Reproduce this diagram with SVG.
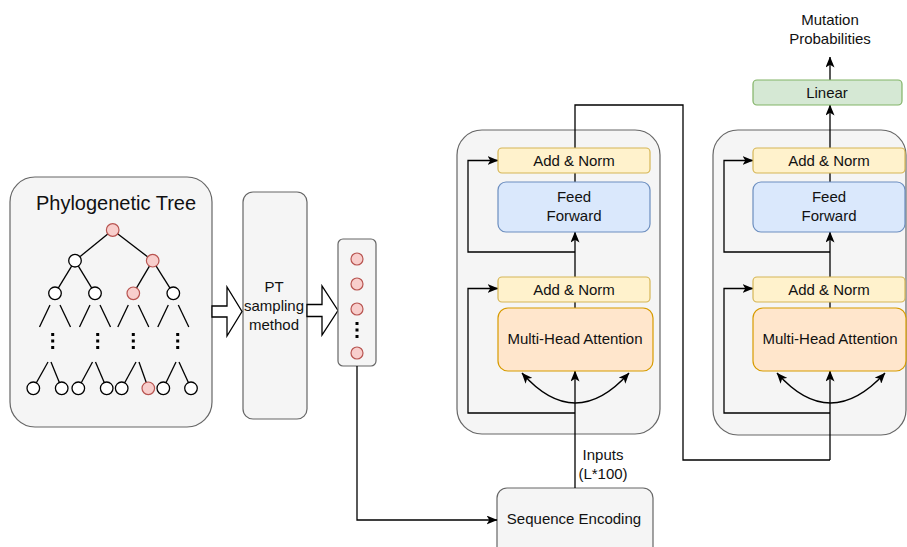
<svg xmlns="http://www.w3.org/2000/svg" width="907" height="547" viewBox="0 0 907 547">
<defs>
<marker id="arr" markerWidth="11" markerHeight="9" refX="10.5" refY="4.5" orient="auto-start-reverse" markerUnits="userSpaceOnUse">
<path d="M0,0 L11,4.5 L0,9 L2.8,4.5 z" fill="#000"/>
</marker>
<style>
text{font-family:"Liberation Sans",Arial,sans-serif;font-size:15px;fill:#111;text-anchor:middle;}
.panel{fill:#f5f5f5;stroke:#666;stroke-width:1.2;}
.an{fill:#fff2cc;stroke:#d6b656;stroke-width:1.2;}
.ff{fill:#dae8fc;stroke:#6c8ebf;stroke-width:1.2;}
.mha{fill:#ffe6cc;stroke:#d79b00;stroke-width:1.2;}
.lin{fill:#d5e8d4;stroke:#82b366;stroke-width:1.2;}
.red{fill:#f8cecc;stroke:#b85450;stroke-width:1.2;}
.wn{fill:#fff;stroke:#000;stroke-width:1.3;}
.tl{stroke:#000;stroke-width:1.3;fill:none;}
.dots{stroke:#000;stroke-width:3;stroke-dasharray:3,3.5;fill:none;}
.c{fill:none;stroke:#000;stroke-width:1.3;}
.ca{fill:none;stroke:#000;stroke-width:1.3;marker-end:url(#arr);}
.blk{fill:#fff;stroke:#000;stroke-width:1.3;}
</style>
</defs>

<g id="tree">
<rect class="panel" x="10" y="177" width="202" height="250" rx="25"/>
<text x="116" y="210" style="font-size:20px">Phylogenetic Tree</text>
<g class="tl">
<line x1="112.7" y1="230" x2="75" y2="260.7"/>
<line x1="112.7" y1="230" x2="152.7" y2="260.7"/>
<line x1="75" y1="260.7" x2="55" y2="293.3"/>
<line x1="75" y1="260.7" x2="95" y2="293.3"/>
<line x1="152.7" y1="260.7" x2="133.3" y2="293.3"/>
<line x1="152.7" y1="260.7" x2="173.3" y2="293.3"/>
<line x1="50" y1="305" x2="39.5" y2="327"/><line x1="60" y1="305" x2="70.5" y2="327"/>
<line x1="90" y1="305" x2="79.5" y2="327"/><line x1="100" y1="305" x2="110.5" y2="327"/>
<line x1="128.3" y1="305" x2="117.8" y2="327"/><line x1="138.3" y1="305" x2="148.8" y2="327"/>
<line x1="168.3" y1="305" x2="157.8" y2="327"/><line x1="178.3" y1="305" x2="188.8" y2="327"/>
<line x1="48" y1="362" x2="33.3" y2="388.3"/><line x1="51" y1="362" x2="61.7" y2="388.3"/>
<line x1="92.5" y1="362" x2="78.3" y2="388.3"/><line x1="95.5" y1="362" x2="106.7" y2="388.3"/>
<line x1="136" y1="362" x2="121.7" y2="388.3"/><line x1="139" y1="362" x2="148.3" y2="388.3"/>
<line x1="176" y1="362" x2="163.3" y2="388.3"/><line x1="179" y1="362" x2="191" y2="388.3"/>
</g>
<g class="dots">
<line x1="52.7" y1="333" x2="52.7" y2="349"/>
<line x1="97.7" y1="333" x2="97.7" y2="349"/>
<line x1="133.3" y1="333" x2="133.3" y2="349"/>
<line x1="177.7" y1="333" x2="177.7" y2="349"/>
</g>
<circle class="red" cx="112.7" cy="230" r="6.3"/>
<circle class="wn" cx="75" cy="260.7" r="6.3"/>
<circle class="red" cx="152.7" cy="260.7" r="6.3"/>
<circle class="wn" cx="55" cy="293.3" r="6.3"/>
<circle class="wn" cx="95" cy="293.3" r="6.3"/>
<circle class="red" cx="133.3" cy="293.3" r="6.3"/>
<circle class="wn" cx="173.3" cy="293.3" r="6.3"/>
<circle class="wn" cx="33.3" cy="388.3" r="6.3"/>
<circle class="wn" cx="61.7" cy="388.3" r="6.3"/>
<circle class="wn" cx="78.3" cy="388.3" r="6.3"/>
<circle class="wn" cx="106.7" cy="388.3" r="6.3"/>
<circle class="wn" cx="121.7" cy="388.3" r="6.3"/>
<circle class="red" cx="148.3" cy="388.3" r="6.3"/>
<circle class="wn" cx="163.3" cy="388.3" r="6.3"/>
<circle class="wn" cx="191" cy="388.3" r="6.3"/>
</g>

<g id="pt-sampling">
<rect class="panel" x="243" y="192" width="64" height="227" rx="10"/>
<text x="274" y="292">PT</text>
<text x="274" y="311">sampling</text>
<text x="274" y="330">method</text>
</g>

<g id="arrow-blocks">
<polygon class="blk" points="212,306 227,306 227,287 242,311.5 227,336 227,317 212,317"/>
<polygon class="blk" points="307,304.5 322,304.5 322,286 338,310.5 322,335 322,316.5 307,316.5"/>
</g>

<g id="samples">
<rect class="panel" x="338" y="239" width="38" height="127" rx="5"/>
<circle class="red" cx="357" cy="259" r="6"/>
<circle class="red" cx="357" cy="284" r="6"/>
<circle class="red" cx="357" cy="309" r="6"/>
<line class="dots" x1="357" y1="322" x2="357" y2="339"/>
<circle class="red" cx="357" cy="353" r="6"/>
</g>

<g id="seq-encoding">
<rect class="panel" x="497" y="488" width="156" height="70" rx="10"/>
<text x="574" y="524">Sequence Encoding</text>
</g>

<g id="encoder1">
<rect class="panel" x="457" y="130" width="203" height="304" rx="25"/>
</g>
<g id="encoder2">
<rect class="panel" x="713" y="130" width="193" height="305" rx="25"/>
</g>

<g id="connectors">
<path class="ca" d="M357,366 V520 H497"/>
<path class="ca" d="M575,488 V371"/>
<path class="c" d="M575,148 V105 H683 V460 H830"/>
<path class="ca" d="M830,460 V371"/>
<path class="c" d="M575,302 V308"/>
<path class="ca" d="M575,277 V232"/>
<path class="c" d="M575,182 V173"/>
<path class="ca" d="M575,413 H468 V288.5 H498"/>
<path class="ca" d="M575,252 H468 V160.5 H498"/>
<path class="ca" d="M522,373 Q575,433 629,373" style="marker-start:url(#arr)"/>
<path class="c" d="M830,302 V308"/>
<path class="ca" d="M830,277 V232"/>
<path class="c" d="M830,182 V173"/>
<path class="ca" d="M830,413 H724 V288.5 H753"/>
<path class="ca" d="M830,252 H724 V160.5 H753"/>
<path class="ca" d="M777,373 Q830,433 885,373" style="marker-start:url(#arr)"/>
<path class="ca" d="M830,148 V105"/>
<path class="ca" d="M830,80 V57"/>
</g>

<g id="add-norm-1a"><rect class="an" x="498" y="148" width="152" height="25" rx="4"/><text x="574" y="166">Add &amp; Norm</text></g>
<g id="feed-forward-1"><rect class="ff" x="498" y="182" width="152" height="50" rx="8"/><text x="574" y="202">Feed</text><text x="574" y="221">Forward</text></g>
<g id="add-norm-1b"><rect class="an" x="498" y="277" width="152" height="25" rx="4"/><text x="574" y="295">Add &amp; Norm</text></g>
<g id="mha-1"><rect class="mha" x="498" y="308" width="155" height="63" rx="10"/><text x="575" y="344">Multi-Head Attention</text></g>

<g id="add-norm-2a"><rect class="an" x="753" y="148" width="152" height="25" rx="4"/><text x="829" y="166">Add &amp; Norm</text></g>
<g id="feed-forward-2"><rect class="ff" x="753" y="182" width="152" height="50" rx="8"/><text x="829" y="202">Feed</text><text x="829" y="221">Forward</text></g>
<g id="add-norm-2b"><rect class="an" x="753" y="277" width="152" height="25" rx="4"/><text x="829" y="295">Add &amp; Norm</text></g>
<g id="mha-2"><rect class="mha" x="753" y="308" width="153" height="63" rx="10"/><text x="830" y="344">Multi-Head Attention</text></g>

<g id="linear"><rect class="lin" x="753" y="80" width="149" height="25" rx="4"/><text x="827" y="98">Linear</text></g>

<g id="labels">
<text x="603" y="460">Inputs</text>
<text x="603" y="479">(L*100)</text>
<text x="830" y="25">Mutation</text>
<text x="830" y="44">Probabilities</text>
</g>
</svg>
